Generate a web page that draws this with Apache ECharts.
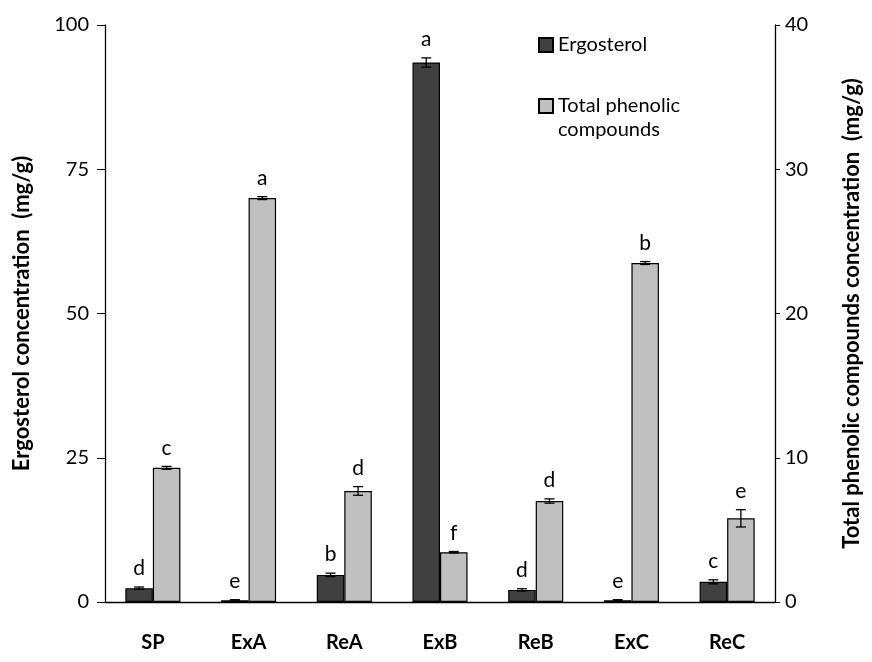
<!DOCTYPE html>
<html><head><meta charset="utf-8">
<script src="https://cdn.jsdelivr.net/npm/echarts@6/dist/echarts.min.js"></script>
<style>html,body{margin:0;padding:0;background:#fff}#c{width:872px;height:662px}</style>
</head><body><div id="c"></div>
<script>
var categories = ['SP', 'ExA', 'ReA', 'ExB', 'ReB', 'ExC', 'ReC'];
var ergosterol = [2.4, 0.3, 4.7, 93.5, 2.1, 0.3, 3.5];
var ergosterolErr = [0.2, 0.1, 0.3, 0.8, 0.2, 0.1, 0.35];
var ergosterolLetters = ['d', 'e', 'b', 'a', 'd', 'e', 'c'];
var phenolic = [9.3, 28.0, 7.7, 3.45, 7.0, 23.5, 5.8];
var phenolicErr = [0.1, 0.1, 0.3, 0.05, 0.15, 0.1, 0.6];
var phenolicLetters = ['c', 'a', 'd', 'f', 'd', 'b', 'e'];
var leftTicks = [0, 25, 50, 75, 100];
var rightTicks = [0, 10, 20, 30, 40];

var FONT = 'Lato';
var GAP = 0.425;

function errSeries(vals, errs, letters, yIdx, side) {
  var data = vals.map(function (v, i) { return [i, v, errs[i]]; });
  return {
    type: 'custom', yAxisIndex: yIdx, z: 5, silent: true,
    data: data,
    renderItem: function (params, api) {
      var i = api.value(0), v = api.value(1), e = api.value(2);
      var band = api.size([1, 0])[0];
      var bw = band * (1 - GAP) / 2;
      var base = api.coord([i, v]);
      var x = base[0] + side * bw / 2;
      var top = api.coord([i, v + e])[1];
      var bot = api.coord([i, Math.max(v - e, 0)])[1];
      var cap = 5;
      var st = { stroke: '#000', lineWidth: 1.3 };
      return {
        type: 'group',
        children: [
          { type: 'line', shape: { x1: x, y1: top, x2: x, y2: bot }, style: st },
          { type: 'line', shape: { x1: x - cap, y1: top, x2: x + cap, y2: top }, style: st },
          { type: 'line', shape: { x1: x - cap, y1: bot, x2: x + cap, y2: bot }, style: st },
          { type: 'text', x: x, y: top - 8, style: {
              text: letters[i], fill: '#000', font: '21px ' + FONT,
              align: 'center', verticalAlign: 'bottom' } }
        ]
      };
    }
  };
}

var chart = echarts.init(document.getElementById('c'));
chart.setOption({
  animation: false,
  backgroundColor: '#fff',
  textStyle: { fontFamily: FONT },
  grid: { left: 105, right: 97, top: 25, bottom: 60, containLabel: false },
  legend: [
    { data: ['Ergosterol'], icon: 'rect', left: 533, top: 28, orient: 'vertical', itemWidth: 14, itemHeight: 14,
      textStyle: { fontSize: 20, fontFamily: FONT, color: '#000', lineHeight: 24 } },
    { data: ['Total phenolic compounds'], icon: 'rect', left: 533, top: 65, orient: 'vertical', itemWidth: 14, itemHeight: 14,
      formatter: function () { return '\u00a0\nTotal phenolic\ncompounds'; },
      textStyle: { fontSize: 20, fontFamily: FONT, color: '#000', lineHeight: 24 } }
  ],
  xAxis: {
    type: 'category', data: categories,
    axisLine: { lineStyle: { color: '#000', width: 1.3 } },
    axisTick: { show: false },
    axisLabel: { fontSize: 20, fontWeight: 'bold', color: '#000', fontFamily: FONT, margin: 31 }
  },
  yAxis: [
    { type: 'value', min: 0, max: 100, interval: 25, position: 'left',
      name: 'Ergosterol concentration  (mg/g)', nameLocation: 'middle', nameGap: 72, nameRotate: 90,
      nameTextStyle: { fontSize: 22, fontWeight: 'bold', color: '#000', fontFamily: FONT },
      axisLine: { show: true, lineStyle: { color: '#000', width: 1.3 } },
      axisTick: { show: true, length: 8, lineStyle: { color: '#000' } },
      axisLabel: { fontSize: 20, color: '#000', margin: 16, fontFamily: FONT,
        formatter: function (v) { return leftTicks.indexOf(v) >= 0 ? String(v) : ''; } },
      splitLine: { show: false } },
    { type: 'value', min: 0, max: 40, interval: 10, position: 'right',
      name: 'Total phenolic compounds concentration  (mg/g)', nameLocation: 'middle', nameGap: 66, nameRotate: 90,
      nameTextStyle: { fontSize: 22, fontWeight: 'bold', color: '#000', fontFamily: FONT },
      axisLine: { show: true, lineStyle: { color: '#000', width: 1.3 } },
      axisTick: { show: true, length: 5, lineStyle: { color: '#000' } },
      axisLabel: { fontSize: 20, color: '#000', margin: 10, fontFamily: FONT,
        formatter: function (v) { return rightTicks.indexOf(v) >= 0 ? String(v) : ''; } },
      splitLine: { show: false } }
  ],
  series: [
    { name: 'Ergosterol', type: 'bar', yAxisIndex: 0, data: ergosterol,
      barGap: 0, barCategoryGap: (GAP * 100) + '%',
      itemStyle: { color: '#404040', borderColor: '#000', borderWidth: 1.2 } },
    { name: 'Total phenolic compounds', type: 'bar', yAxisIndex: 1, data: phenolic,
      barGap: 0, barCategoryGap: (GAP * 100) + '%',
      itemStyle: { color: '#c0c0c0', borderColor: '#000', borderWidth: 1.2 } },
    errSeries(ergosterol, ergosterolErr, ergosterolLetters, 0, -1),
    errSeries(phenolic, phenolicErr, phenolicLetters, 1, 1)
  ]
});
</script></body></html>
